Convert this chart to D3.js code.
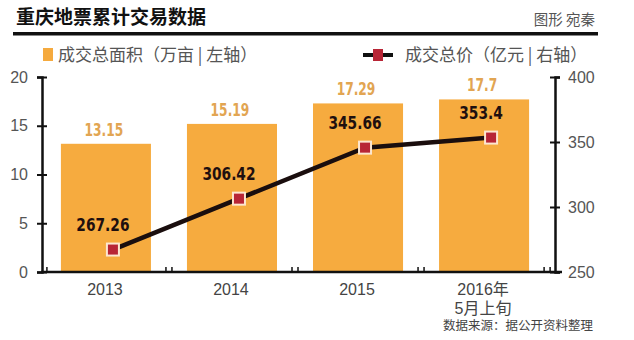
<!DOCTYPE html>
<html><head><meta charset="utf-8">
<script src="https://cdn.jsdelivr.net/npm/d3@7"></script>
<style>
html,body{margin:0;padding:0;background:#fff;}
svg{display:block;}
</style></head>
<body>
<svg id="chart" width="634" height="340"></svg>
<script>
const categories = ["2013", "2014", "2015", "2016年\n5月上旬"];
const areaValues = [13.15, 15.19, 17.29, 17.7];
const priceValues = [267.26, 306.42, 345.66, 353.4];
const leftTicks = [0, 5, 10, 15, 20];
const rightTicks = [250, 300, 350, 400];
const title = "重庆地票累计交易数据";
const author = "图形 宛秦";
const legendArea = "成交总面积（万亩 | 左轴）";
const legendPrice = "成交总价（亿元 | 右轴）";
const source = "数据来源：据公开资料整理";

const svg = d3.select("#chart");
const x0 = 42, x1 = 555, yTop = 77, yBot = 272;
const cnFont = "'Noto Sans CJK SC','Noto Sans',sans-serif";
const mixFont = "'Liberation Sans','Noto Sans CJK SC',sans-serif";
const numFont = "'DejaVu Sans Condensed','DejaVu Sans',sans-serif";
const axFont = "'Liberation Sans','Noto Sans',sans-serif";

const x = d3.scaleBand().domain(categories).range([x0, 548]).paddingInner(0.2857).paddingOuter(0.15);
const yL = d3.scaleLinear().domain([0, 20]).range([yBot, yTop]);
const yR = d3.scaleLinear().domain([250, 400]).range([yBot, yTop]);

function squeeze(sel, f) {
  sel.each(function() {
    const w = this.getComputedTextLength();
    d3.select(this).attr("textLength", w * f).attr("lengthAdjust", "spacingAndGlyphs");
  });
}

// Title
svg.append("text").attr("x", 16).attr("y", 24).attr("font-family", cnFont).attr("font-weight", 700)
  .attr("font-size", 19).attr("fill", "#111").text(title);
svg.append("text").attr("x", 595).attr("y", 25).attr("text-anchor", "end").attr("font-family", cnFont)
  .attr("font-size", 14.5).attr("fill", "#555").text(author);
svg.append("rect").attr("x", 13).attr("y", 32).attr("width", 585).attr("height", 3.5).attr("fill", "#111");

// Legend
svg.append("rect").attr("x", 43).attr("y", 48).attr("width", 10).attr("height", 13).attr("fill", "#F5AA3E");
svg.append("text").attr("x", 58).attr("y", 61).attr("font-family", cnFont).attr("font-size", 17)
  .attr("fill", "#555").text(legendArea);
svg.append("line").attr("x1", 363).attr("x2", 393).attr("y1", 55).attr("y2", 55).attr("stroke", "#111").attr("stroke-width", 4);
svg.append("rect").attr("x", 373).attr("y", 49).attr("width", 10).attr("height", 12).attr("fill", "#B82536");
svg.append("text").attr("x", 405).attr("y", 61).attr("font-family", cnFont).attr("font-size", 17)
  .attr("fill", "#555").text(legendPrice);

// Bars
svg.append("g").selectAll("rect").data(categories).join("rect")
  .attr("x", d => x(d)).attr("width", x.bandwidth())
  .attr("y", (d, i) => yL(areaValues[i])).attr("height", (d, i) => yBot - yL(areaValues[i]))
  .attr("fill", "#F6AB3F");

// Bar labels
svg.append("g").selectAll("text").data(categories).join("text")
  .attr("x", d => x(d) + x.bandwidth() / 2 - 2)
  .attr("y", (d, i) => yL(areaValues[i]) - 8)
  .attr("text-anchor", "middle").attr("font-family", numFont).attr("font-weight", 700)
  .attr("font-size", 17).attr("fill", "#E2A552")
  .text((d, i) => areaValues[i])
  .call(squeeze, 0.8);

// Left axis
const gL = svg.append("g").attr("transform", `translate(${x0},0)`)
  .call(d3.axisLeft(yL).tickValues(leftTicks).tickSize(5).tickPadding(9));
gL.select(".domain").attr("stroke", "#111").attr("stroke-width", 2.5);
gL.selectAll(".tick line").attr("stroke", "#111").attr("stroke-width", 2).attr("x2", 5).attr("x1", -5);
gL.selectAll(".tick text").attr("font-family", axFont).attr("font-size", 16).attr("fill", "#555");

// Right axis
const gR = svg.append("g").attr("transform", `translate(${x1},0)`)
  .call(d3.axisRight(yR).tickValues(rightTicks).tickSize(5).tickPadding(8));
gR.select(".domain").attr("stroke", "#111").attr("stroke-width", 2.5);
gR.selectAll(".tick line").attr("stroke", "#111").attr("stroke-width", 2).attr("x1", -5).attr("x2", 5);
gR.selectAll(".tick text").attr("font-family", axFont).attr("font-size", 16).attr("fill", "#555");

// Bottom axis baseline
svg.append("line").attr("x1", x0 - 1).attr("x2", x1 + 7).attr("y1", yBot).attr("y2", yBot)
  .attr("stroke", "#111").attr("stroke-width", 2.5);
const tickXs = [x(categories[0]) - 14];
categories.forEach(d => {
  const m = x(d) + x.bandwidth() + (x.step() - x.bandwidth()) / 2;
  tickXs.push(m - 3, m + 3);
});
svg.append("g").selectAll("line").data(tickXs).join("line")
  .attr("x1", d => d).attr("x2", d => d).attr("y1", yBot).attr("y2", yBot - 5)
  .attr("stroke", "#111").attr("stroke-width", 1.5);

// Category labels (one text per line)
const catLines = categories.flatMap(d => d.split("\n").map((l, i) => ({cat: d, line: l, i})));
svg.append("g").selectAll("text").data(catLines).join("text")
  .attr("x", d => x(d.cat) + x.bandwidth() / 2 - 1)
  .attr("y", d => 295 + d.i * 19)
  .attr("text-anchor", "middle").attr("font-family", mixFont).attr("font-size", 16).attr("fill", "#444")
  .text(d => d.line);

// Line
const px = d => x(d) + x.bandwidth() / 2 + 7;
const line = d3.line().x((d, i) => px(categories[i])).y(d => yR(d));
svg.append("path").datum(priceValues).attr("d", line).attr("fill", "none")
  .attr("stroke", "#1a0e0e").attr("stroke-width", 4.5);
svg.append("g").selectAll("rect").data(priceValues).join("rect")
  .attr("x", (d, i) => px(categories[i]) - 6).attr("y", d => yR(d) - 6)
  .attr("width", 12).attr("height", 12)
  .attr("fill", "#B82536").attr("stroke", "#FCE6D0").attr("stroke-width", 2);
svg.append("g").selectAll("text").data(priceValues).join("text")
  .attr("x", (d, i) => x(categories[i]) + x.bandwidth() / 2 - 3)
  .attr("y", d => yR(d) - 19)
  .attr("text-anchor", "middle").attr("font-family", numFont).attr("font-weight", 700)
  .attr("font-size", 18).attr("fill", "#1e0f0f").text(d => d)
  .call(squeeze, 0.85);

// Source
svg.append("text").attr("x", 593).attr("y", 330).attr("text-anchor", "end").attr("font-family", mixFont)
  .attr("font-size", 12.5).attr("fill", "#444").text(source);
</script>
</body></html>
